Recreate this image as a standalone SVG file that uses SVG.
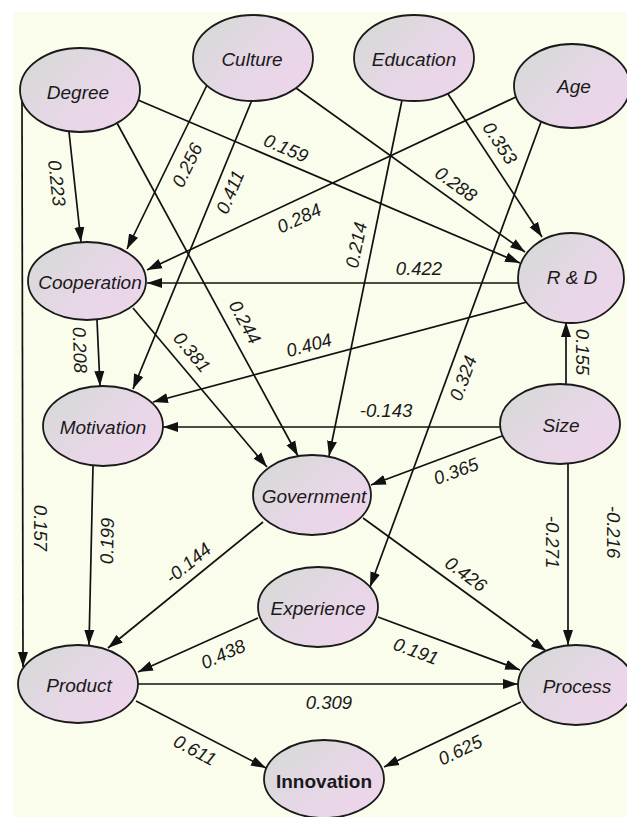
<svg xmlns="http://www.w3.org/2000/svg" width="627" height="817" viewBox="0 0 627 817">
<defs>
<linearGradient id="nf" x1="0.1" y1="0.2" x2="0.9" y2="0.8">
<stop offset="0" stop-color="#d9d9d9"/>
<stop offset="0.55" stop-color="#e6d7e6"/>
<stop offset="1" stop-color="#edd5ea"/>
</linearGradient>
<marker id="ah" markerUnits="userSpaceOnUse" markerWidth="16" markerHeight="12" refX="15" refY="6" orient="auto">
<path d="M0,1 L15,6 L0,11 Z" fill="#111"/>
</marker>
<style>
.n ellipse{fill:url(#nf);stroke:#1a1a1a;stroke-width:1.8}
.n text{font-family:"Liberation Sans",Arial,sans-serif;font-style:italic;font-size:19px;fill:#1a1a1a;text-anchor:middle;dominant-baseline:central}
#edges path{fill:none;stroke:#111;stroke-width:1.7;marker-end:url(#ah)}
.l{font-family:"Liberation Sans",Arial,sans-serif;font-style:italic;font-size:18.5px;fill:#1a1a1a;text-anchor:middle;dominant-baseline:central}
</style>
</defs>
<rect x="0" y="0" width="627" height="817" fill="#ffffff"/>
<rect x="13" y="12" width="614" height="805" fill="#fafdec"/>
<g id="edges">
<path d="M69,132 L81,242"/>
<path d="M207,85 L127,249"/>
<path d="M252,100 L133,389"/>
<path d="M117,123 L298,456"/>
<path d="M138,100 L520,263"/>
<path d="M296,88 L525,252"/>
<path d="M448,94 L542,237"/>
<path d="M518,96 L147,270"/>
<path d="M402,100 L329,456"/>
<path d="M518,283 L147,283"/>
<path d="M527,302 L153,402"/>
<path d="M541,122 L370,587"/>
<path d="M97,320 L100,386"/>
<path d="M133,308 L267,467"/>
<path d="M502,436 L371,485"/>
<path d="M500,427 L163,427"/>
<path d="M566,384 L566,322"/>
<path d="M568,464 L568,645"/>
<path d="M22,101 L23,667"/>
<path d="M93,466 L89,645"/>
<path d="M263,522 L108,648"/>
<path d="M363,518 L546,651"/>
<path d="M258,618 L138,672"/>
<path d="M378,617 L520,670"/>
<path d="M138,684 L518,684"/>
<path d="M136,701 L266,768"/>
<path d="M521,702 L384,767"/>
</g>
<g id="labels">
<text class="l" transform="translate(57,183) rotate(84)">0.223</text>
<text class="l" transform="translate(187,165) rotate(-64)">0.256</text>
<text class="l" transform="translate(230,192) rotate(-67)">0.411</text>
<text class="l" transform="translate(245,322) rotate(61.5)">0.244</text>
<text class="l" transform="translate(286,148) rotate(23)">0.159</text>
<text class="l" transform="translate(456,184) rotate(35.6)">0.288</text>
<text class="l" transform="translate(500,143) rotate(56.7)">0.353</text>
<text class="l" transform="translate(299,218) rotate(-25)">0.284</text>
<text class="l" transform="translate(356,245) rotate(-78.4)">0.214</text>
<text class="l" transform="translate(419,268)">0.422</text>
<text class="l" transform="translate(309,345) rotate(-15)">0.404</text>
<text class="l" transform="translate(463,378) rotate(-69.7)">0.324</text>
<text class="l" transform="translate(80,350) rotate(88)">0.208</text>
<text class="l" transform="translate(192,352) rotate(50)">0.381</text>
<text class="l" transform="translate(386,410)">-0.143</text>
<text class="l" transform="translate(582,352) rotate(90)">0.155</text>
<text class="l" transform="translate(456,471) rotate(-20.3)">0.365</text>
<text class="l" transform="translate(552,542) rotate(90)">-0.271</text>
<text class="l" transform="translate(613,532) rotate(90)">-0.216</text>
<text class="l" transform="translate(40,528) rotate(90)">0.157</text>
<text class="l" transform="translate(107,541) rotate(-89)">0.199</text>
<text class="l" transform="translate(188,563) rotate(-39)">-0.144</text>
<text class="l" transform="translate(466,574) rotate(36)">0.426</text>
<text class="l" transform="translate(223,654) rotate(-24.2)">0.438</text>
<text class="l" transform="translate(416,651) rotate(20.5)">0.191</text>
<text class="l" transform="translate(329,702)">0.309</text>
<text class="l" transform="translate(195,750) rotate(28)">0.611</text>
<text class="l" transform="translate(460,750) rotate(-25.5)">0.625</text>
</g>
<g id="degree" class="n"><ellipse cx="80" cy="90" rx="60" ry="42"/><text x="78" y="92">Degree</text></g>
<g id="culture" class="n"><ellipse cx="253" cy="58" rx="60" ry="43"/><text x="252" y="59">Culture</text></g>
<g id="education" class="n"><ellipse cx="414" cy="58" rx="60" ry="43"/><text x="414" y="59">Education</text></g>
<g id="age" class="n"><ellipse cx="572" cy="86" rx="58" ry="42"/><text x="574" y="86">Age</text></g>
<g id="cooperation" class="n"><ellipse cx="87" cy="281" rx="59" ry="39"/><text x="90" y="282">Cooperation</text></g>
<g id="rd" class="n"><ellipse cx="571" cy="278" rx="53" ry="45"/><text x="572" y="277">R &amp; D</text></g>
<g id="motivation" class="n"><ellipse cx="103" cy="426" rx="60" ry="40"/><text x="103" y="427">Motivation</text></g>
<g id="size" class="n"><ellipse cx="560" cy="424" rx="60" ry="40"/><text x="561" y="425">Size</text></g>
<g id="government" class="n"><ellipse cx="312" cy="495" rx="59" ry="40"/><text x="314" y="496">Government</text></g>
<g id="experience" class="n"><ellipse cx="318" cy="607" rx="60" ry="40"/><text x="318" y="608">Experience</text></g>
<g id="product" class="n"><ellipse cx="78" cy="684" rx="60" ry="39"/><text x="79" y="685">Product</text></g>
<g id="process" class="n"><ellipse cx="576" cy="685" rx="58" ry="40"/><text x="577" y="686">Process</text></g>
<g id="innovation" class="n"><ellipse cx="324" cy="779" rx="60" ry="39"/><text x="324" y="781" style="font-style:normal;font-weight:bold">Innovation</text></g>
</svg>
